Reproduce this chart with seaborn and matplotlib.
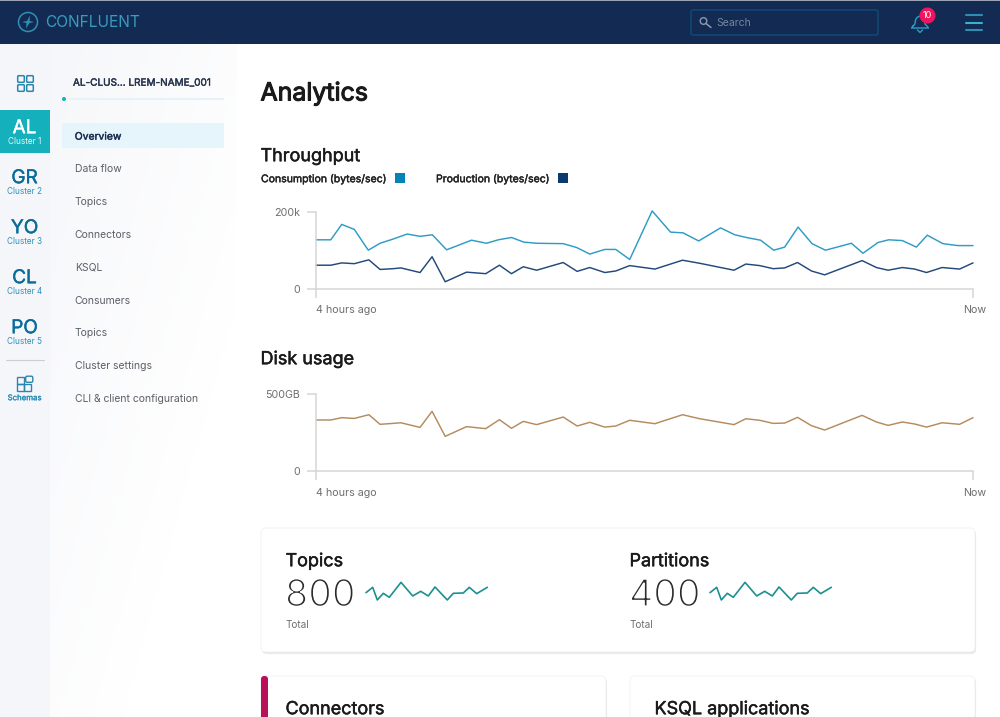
import numpy as np
import matplotlib
matplotlib.use('Agg')
import matplotlib.pyplot as plt
import matplotlib.patheffects as pe
from matplotlib.colors import LinearSegmentedColormap
from matplotlib.transforms import ScaledTranslation
from matplotlib.patches import Rectangle, FancyBboxPatch, Circle, Polygon
import seaborn as sns

# minutes since the start of the 4 hour window
consumption_t = [0, 5.4, 9.4, 14, 19.1, 23.4, 28.2, 33.3, 38, 42.5, 47.7, 56.8, 62.3, 66.6, 71.4, 75.9,
                 80.6, 90.3, 95.2, 100, 105.5, 109.5, 114.6, 122.8, 129.5, 134.1, 139.8, 147.8, 153,
                 157.9, 162.4, 167.2, 171.2, 176.1, 181.2, 186.1, 195.6, 199.8, 205.3, 209.2, 214.2,
                 219.3, 223.3, 229, 234.5, 240]
consumption = [127, 127, 167, 154, 100, 118, 129, 142, 136, 140, 101, 126, 118, 127, 133, 121,
               118, 117, 107, 90, 102, 102, 76, 202, 147, 145, 124, 158, 140,
               132, 126, 100, 108, 160, 117, 100, 118, 92, 120, 127, 125,
               108, 139, 117, 112, 112]

production_t = [0, 5.4, 9.4, 14, 19.3, 23.4, 28.2, 31, 38, 42.4, 47.2, 55, 62, 67, 71.4, 75.7,
                80.6, 90.3, 95.4, 100, 105.5, 109.5, 114.6, 123.8, 133.9, 140.2, 152.7, 157, 162.1,
                167, 171.2, 175.9, 181, 185.8, 199.5, 204.7, 209, 214.2, 218.7, 223, 228.7, 235.1, 240]
production = [61, 61, 67, 65, 75, 50, 52, 54, 42, 83, 18, 43, 39, 61, 39, 57,
              48, 68, 45, 55, 42, 46, 60, 51, 74, 66, 48, 64, 60,
              52, 54, 68, 46, 36, 73, 55, 48, 55, 51, 42, 55, 51, 67]

disk_gb = [330, 330, 345, 340, 364, 302, 308, 312, 282, 386, 224, 287, 274, 332, 276, 321,
           300, 349, 291, 315, 284, 291, 328, 306, 364, 338, 300, 338, 328,
           308, 310, 347, 293, 265, 360, 317, 295, 317, 304, 284, 312, 302, 345]

spark_t = [0, 6.7, 11.3, 17.3, 23.3, 35, 46.7, 54.7, 62.3, 69, 81.3, 87.3, 97.3, 103.3, 110.7, 121.3]
spark_values = [32, 48, 10, 30, 18, 63, 22, 36, 22, 49, 10, 30, 31, 48, 29, 48]

cluster_codes = ['AL', 'GR', 'YO', 'CL', 'PO']
cluster_names = ['Cluster 1', 'Cluster 2', 'Cluster 3', 'Cluster 4', 'Cluster 5']
nav_items = ['Overview', 'Data flow', 'Topics', 'Connectors', 'KSQL', 'Consumers', 'Topics',
             'Cluster settings', 'CLI & client configuration']

W, H = 1000, 717
NAVY = '#132B52'
C_CONS = '#2F9CC6'
C_PROD = '#22497B'
C_DISK = '#B58B5E'
C_SPARK = '#1E8F8F'
C_AXIS = '#D6D6D6'
C_TICK = '#6E6E6E'
C_DARK = '#1A1A1A'

sns.set_theme(style='white')
plt.rcParams['font.family'] = ['Inter', 'DejaVu Sans']

fig = plt.figure(figsize=(W / 100, H / 100), dpi=100)
fig.patch.set_facecolor('white')

chrome = fig.add_axes([0, 0, 1, 1], zorder=0)
chrome.axis('off')


def label(x, y, s, size, color=C_DARK, bold=0, zorder=3, ha='left'):
    # size is in pixels, y is the vertical middle of the text, bold thickens the glyphs
    t = chrome.text(x, y + 1.7, s, fontsize=size * 0.72, color=color, ha=ha, va='center', zorder=zorder)
    if bold:
        t.set_path_effects([pe.withStroke(linewidth=bold, foreground=color)])
    return t


def box(x, y, w, h, color, **kw):
    chrome.add_patch(Rectangle((x, y), w, h, facecolor=color, edgecolor='none', **kw))


def card(x, y, w, h):
    for off, col in [(2.2, '#EFEFEF'), (1.2, '#E2E2E2')]:
        chrome.add_patch(FancyBboxPatch((x + 4 + off / 2, y + 4 + off), w - 8, h - 8,
                                        boxstyle='round,pad=4,rounding_size=5', facecolor=col, edgecolor='none'))
    chrome.add_patch(FancyBboxPatch((x + 4, y + 4), w - 8, h - 8, boxstyle='round,pad=4,rounding_size=5',
                                    facecolor='white', edgecolor='#F2F2F2', linewidth=0.6))


def chart_axes(left, right, top, bottom):
    return fig.add_axes([left / W, 1 - bottom / H, (right - left) / W, (bottom - top) / H], zorder=2, facecolor='none')


def style_chart(ax, ymax, yticklabels):
    ax.set_xlim(0, 240)
    ax.set_ylim(0, ymax)
    ax.set_xlabel('')
    ax.set_ylabel('')
    ax.set_xticks([0, 240])
    ax.set_xticklabels(['4 hours ago', 'Now'])
    ax.set_yticks([0, ymax])
    ax.set_yticklabels(yticklabels)
    ax.tick_params(axis='both', length=6.5, width=1.1, color=C_AXIS, labelcolor=C_TICK, labelsize=7.7, bottom=True, left=True)
    ax.tick_params(axis='x', pad=5.5)
    ax.tick_params(axis='y', pad=5)
    first, last = ax.get_xticklabels()
    first.set_ha('left')
    last.set_transform(last.get_transform() + ScaledTranslation(2 / 100, 0, fig.dpi_scale_trans))
    for side in ['top', 'right']:
        ax.spines[side].set_visible(False)
    for side in ['left', 'bottom']:
        ax.spines[side].set_color(C_AXIS)
        ax.spines[side].set_linewidth(1.1)


# backgrounds
fade = np.add.outer(np.linspace(0, 1, 80), np.linspace(0, 1, 60)) / 1.4
nav_cmap = LinearSegmentedColormap.from_list('nav', ['#F6F7FA', '#FFFFFF'])
chrome.imshow(np.clip(fade, 0, 1), extent=(50, 237, 717, 44), aspect='auto', cmap=nav_cmap, vmin=0, vmax=1, zorder=0)
chrome.set_xlim(0, W)
chrome.set_ylim(H, 0)
box(0, 44, 50, H - 44, '#F5F6FA', zorder=1)
box(0, 0, W, 44, NAVY)
box(0, 0, W, 1.2, '#9AA3B2')

# logo
chrome.add_patch(Circle((28, 22), 9.5, facecolor='none', edgecolor='#2F8FB8', linewidth=1.1))
chrome.add_patch(Polygon([(30, 15.5), (27, 21), (22, 22), (26.5, 23), (26, 28.5), (29.5, 23), (34, 22), (29.5, 21)],
                         facecolor='#2F8FB8', edgecolor='none'))
label(45, 21, 'CONFLUENT', 15.5, color='#3A9CC0')

# search box, bell and menu
chrome.add_patch(FancyBboxPatch((693, 12), 183, 21, boxstyle='round,pad=2,rounding_size=2', facecolor=NAVY,
                                edgecolor='#0F4C7C', linewidth=1))
chrome.add_patch(Circle((703.5, 21), 3.3, facecolor='none', edgecolor='#8A99B0', linewidth=1))
chrome.plot([706, 711], [23.5, 27.5], color='#8A99B0', lw=1.1)
label(716, 21.5, 'Search', 10.5, color='#76869F')
chrome.plot([913, 915, 915.5, 917, 920, 923, 924.5, 925, 927, 928.5, 911.5, 913],
            [26, 24, 20, 17.5, 16, 17.5, 20, 24, 26, 28, 28, 26], color='#2F9CC6', lw=1)
chrome.plot([917.5, 920, 922.5], [30, 32.5, 30], color='#2F9CC6', lw=1)
chrome.add_patch(Circle((927.5, 15.5), 8, facecolor='#F0145F', edgecolor='none', zorder=3))
label(927.5, 14.3, '10', 9, color='white', zorder=4, ha='center')
for yy, col in [(14.5, '#2E8DB5'), (22.5, '#36B4CE'), (30, '#2E8DB5')]:
    chrome.plot([965.5, 981.5], [yy, yy], color=col, lw=1.5)

# cluster rail
for (x0, y0) in [(18, 76), (27, 76), (18, 85), (27, 85)]:
    chrome.add_patch(FancyBboxPatch((x0, y0), 6, 6, boxstyle='round,pad=0.3,rounding_size=1', facecolor='none',
                                    edgecolor='#2B86AE', linewidth=1.1, zorder=2))
box(0, 110, 50, 43, '#14B1BC', zorder=2)
for i, (code, name) in enumerate(zip(cluster_codes, cluster_names)):
    active = i == 0
    label(24.5, 126.5 + i * 50, code, 19, color='white' if active else '#0B6C9A', bold=0.3, ha='center')
    label(24.5, 139.5 + i * 50, name, 8.2, color='#E4F7F8' if active else '#2C93BC', ha='center')
chrome.plot([6, 44], [360, 360], color='#C9CDD6', lw=0.8, zorder=2)
for (x0, y0) in [(16.5, 376.5), (16.5, 383.5), (23.5, 383.5)]:
    chrome.add_patch(Rectangle((x0, y0), 7, 7, facecolor='none', edgecolor='#2B86AE', linewidth=1, zorder=2))
chrome.add_patch(FancyBboxPatch((26, 376.5), 6.5, 5.5, boxstyle='round,pad=0.3,rounding_size=1.5', facecolor='none',
                                edgecolor='#2B86AE', linewidth=1, zorder=2))
label(24.5, 396.5, 'Schemas', 7.8, color='#2C8DB6', bold=0.2, ha='center')

# second level nav
label(73, 81, 'AL-CLUS... LREM-NAME_001', 10, color='#28344F', bold=0.3)
box(69, 97.5, 155, 2.8, '#E4F3F8', zorder=2)
chrome.add_patch(Circle((64, 99), 2, facecolor='#14B1BC', edgecolor='none', zorder=3))
box(62, 123, 162, 25, '#E6F4FB', zorder=2)
for i, item in enumerate(nav_items):
    label(74.7, 135 + i * 32.8, item, 10.4, color='#1D2F52' if i == 0 else '#5B5F66', bold=0.3 if i == 0 else 0)

# headings
label(260.5, 92, 'Analytics', 24.9, bold=0.8)
label(260.5, 155, 'Throughput', 18, bold=0.35)
label(260.5, 358, 'Disk usage', 18, bold=0.35)
label(261, 177, 'Consumption (bytes/sec)', 10.5, color='#222222', bold=0.3)
box(395, 173, 10, 10, '#0484B4')
label(436, 177, 'Production (bytes/sec)', 10.5, color='#222222', bold=0.3)
box(558, 173, 10, 10, '#0A3A70')

# throughput chart
ax1 = chart_axes(316, 973, 211.7, 288.7)
sns.lineplot(x=consumption_t, y=consumption, ax=ax1, color=C_CONS, linewidth=1.05, estimator=None, errorbar=None, clip_on=False)
sns.lineplot(x=production_t, y=production, ax=ax1, color=C_PROD, linewidth=1.05, estimator=None, errorbar=None, clip_on=False)
style_chart(ax1, 200, ['0', '200k'])

# disk chart
ax2 = chart_axes(316, 973, 393.7, 471)
sns.lineplot(x=production_t, y=disk_gb, ax=ax2, color=C_DISK, linewidth=1.05, estimator=None, errorbar=None, clip_on=False)
style_chart(ax2, 500, ['0', '500GB'])

# stat cards
card(261, 528, 714, 124)
card(261, 676, 345, 60)
card(630, 676, 345, 60)
chrome.add_patch(FancyBboxPatch((261, 676), 7, 60, boxstyle='round,pad=0,rounding_size=3', facecolor='#B8115A', edgecolor='none'))

for x0, title, total in [(285.5, 'Topics', '800'), (629.5, 'Partitions', '400')]:
    label(x0, 560, title, 18, bold=0.35)
    big = label(x0 - 0.5, 594.5, total, 37.5, color='#2B2B2B')
    # thin the regular weight glyphs down to a light look
    big.set_path_effects([pe.Stroke(linewidth=1.2, foreground='white')])
    label(x0 + 0.5, 623, 'Total', 10, color='#6E6E6E')

for left in [366, 710]:
    spark = chart_axes(left, left + 121.3, 580, 603.3)
    sns.lineplot(x=spark_t, y=spark_values, ax=spark, color=C_SPARK, linewidth=1.2, estimator=None, errorbar=None, clip_on=False)
    spark.set_xlim(0, 121.3)
    spark.set_ylim(0, 70)
    spark.axis('off')

label(285.5, 708, 'Connectors', 18, bold=0.35)
label(654.5, 708, 'KSQL applications', 18, bold=0.35)

fig.savefig('out.png', dpi=100)
